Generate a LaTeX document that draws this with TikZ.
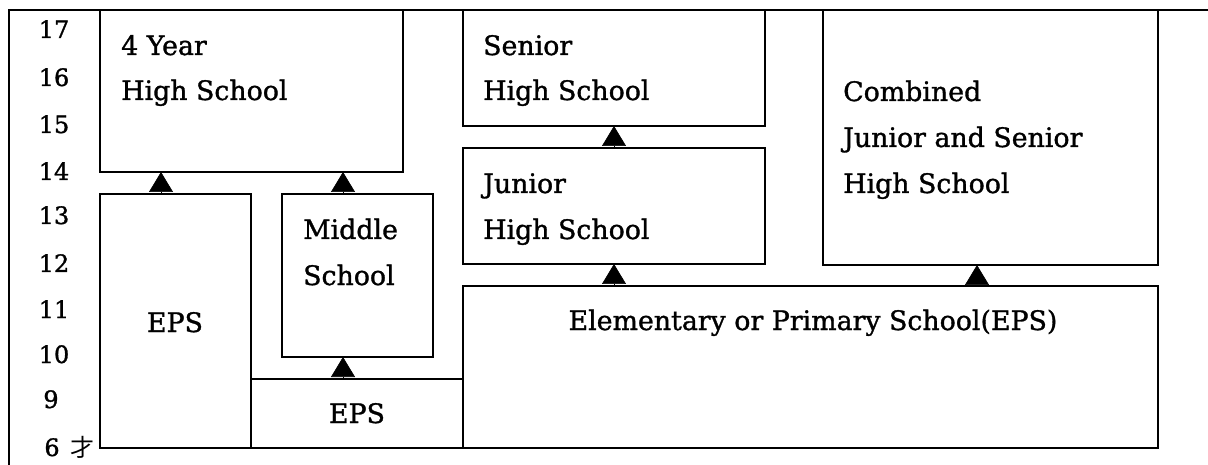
\documentclass[tikz,border=0pt]{standalone}
\usepackage{fontspec}
\setmainfont{DejaVu Serif}[BoldFont={DejaVu Serif}, BoldFeatures={FakeBold=1.2}]
\newfontfamily\cjk{Noto Sans CJK JP}
\usetikzlibrary{arrows.meta}
\tikzset{
  box/.style={draw, line width=2.4pt, inner sep=0pt, outer sep=0pt, anchor=north west},
  lbl/.style={inner sep=0pt, anchor=base west, font=\fontsize{26.8}{30}\selectfont\bfseries},
  clbl/.style={inner sep=0pt, anchor=base, font=\fontsize{26.8}{30}\selectfont\bfseries},
  age/.style={inner sep=0pt, anchor=base, font=\fontsize{24}{28}\selectfont\bfseries},
  agecjk/.style={inner sep=0pt, anchor=base, font=\fontsize{24}{28}\selectfont\cjk},
  arr/.style={line width=0.6pt, -{Triangle[length=20pt,width=24pt]}},
  frame/.style={line width=2.4pt}
}
\begin{document}
\begin{tikzpicture}[x=1pt,y=-1pt]
\useasboundingbox (0,0) rectangle (1208,465);
% frame
\coordinate (ftl) at (9,10);
\coordinate (fbl) at (9,465);
\coordinate (ftr) at (1208,10);
\draw[frame] (fbl) -- (ftl) -- (ftr);
% boxes
\node[box, minimum width=303pt, minimum height=162pt] (hs4) at (100,10) {};
\node[box, minimum width=151pt, minimum height=254pt] (epsL) at (100,194) {};
\node[box, minimum width=151pt, minimum height=163pt] (mid) at (282,194) {};
\node[box, minimum width=212pt, minimum height=69pt] (epsS) at (251,379) {};
\node[box, minimum width=302pt, minimum height=116pt] (sen) at (463,10) {};
\node[box, minimum width=302pt, minimum height=116pt] (jun) at (463,148) {};
\node[box, minimum width=695pt, minimum height=162pt] (epsB) at (463,286) {};
\node[box, minimum width=335pt, minimum height=255pt] (comb) at (823,10) {};
% labels
\node[lbl] (t4a) at (121,55) {4 Year};
\node[lbl] (t4b) at (121,100) {High School};
\node[lbl] (tsa) at (483,55) {Senior};
\node[lbl] (tsb) at (483,100) {High School};
\node[lbl] (tja) at (483,193) {Junior};
\node[lbl] (tjb) at (483,239) {High School};
\node[lbl] (tma) at (303,239) {Middle};
\node[lbl] (tmb) at (303,285) {School};
\node[lbl] (tca) at (843,101) {Combined};
\node[lbl] (tcb) at (843,147) {Junior and Senior};
\node[lbl] (tcc) at (843,193) {High School};
\node[clbl] (tel) at (175,332) {EPS};
\node[clbl] (tes) at (357,423) {EPS};
\node[clbl] (teb) at (813,330) {Elementary or Primary School(EPS)};
% ages
\node[age] (a17) at (54,38) {17};
\node[age] (a16) at (54,86) {16};
\node[age] (a15) at (54,133) {15};
\node[age] (a14) at (54,180) {14};
\node[age] (a13) at (54,224) {13};
\node[age] (a12) at (54,272) {12};
\node[age] (a11) at (54,318) {11};
\node[age] (a10) at (54,363) {10};
\node[age] (a9) at (51,408) {9};
\node[age] (a6) at (52,456) {6};
\node[agecjk] (a6u) at (82,456) {才};
% connectors
\draw[arr] ([xshift=61pt]epsL.north west) -- ([xshift=61pt]hs4.south west);
\draw[arr] ([xshift=61pt]mid.north west) -- ([xshift=243pt]hs4.south west);
\draw[arr] ([xshift=92pt]epsS.north west) -- ([xshift=61pt]mid.south west);
\draw[arr] (jun.north) -- (sen.south);
\draw[arr] ([xshift=151pt]epsB.north west) -- (jun.south);
\draw[arr] ([xshift=514pt]epsB.north west) -- ([xshift=154pt]comb.south west);
\end{tikzpicture}
\end{document}
